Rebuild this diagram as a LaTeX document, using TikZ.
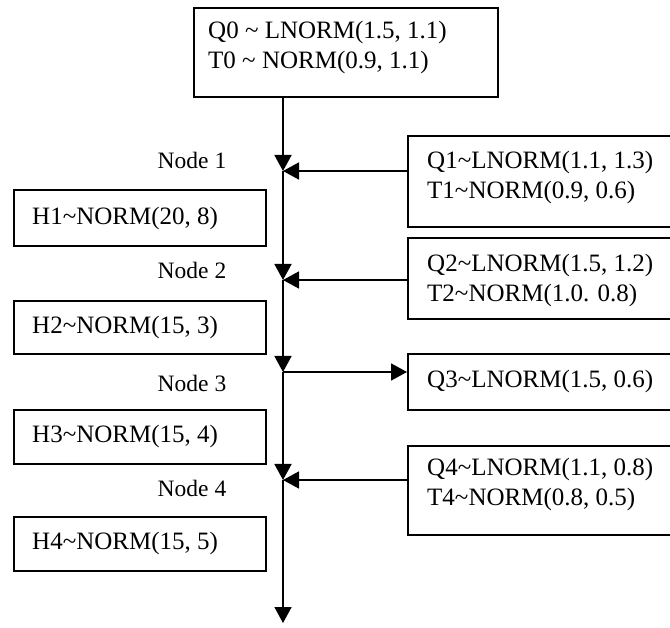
\documentclass[tikz,border=0pt]{standalone}
\usepackage{fontspec}
\setmainfont{Liberation Serif}
\usetikzlibrary{arrows.meta}

\begin{document}
\begin{tikzpicture}[x=1pt,y=-1pt,
  box/.style={draw, line width=1.6pt, rectangle, inner sep=0pt, anchor=north west},
  txt/.style={inner sep=0pt, anchor=west, align=left, font=\fontsize{25}{30}\selectfont},
  lbl/.style={inner sep=0pt, font=\fontsize{23.5}{28}\selectfont},
  flow/.style={line width=1.7pt, -{Triangle[length=16pt,width=17pt]}}]

\useasboundingbox (0,0) rectangle (670,628);
\clip (0,0) rectangle (670,628);

% source box at the top
\node[box, minimum width=304, minimum height=89] (top) at (193,7) {};
\node[txt] (toptext) at (208,47) {Q0 \textasciitilde{} LNORM(1.5, 1.1)\\T0 \textasciitilde{} NORM(0.9, 1.1)};

% inflow / outflow boxes on the right (running off the page edge)
\node[box, minimum width=300, minimum height=91] (q1) at (407,135) {};
\node[txt] (q1text) at (427,177) {Q1\textasciitilde LNORM(1.1, 1.3)\\T1\textasciitilde NORM(0.9, 0.6)};
\node[box, minimum width=300, minimum height=81] (q2) at (407,237) {};
\node[txt] (q2text) at (427,280) {Q2\textasciitilde LNORM(1.5, 1.2)\\T2\textasciitilde NORM(1.0. 0.8)};
\node[box, minimum width=300, minimum height=56] (q3) at (407,353) {};
\node[txt] (q3text) at (427,381) {Q3\textasciitilde LNORM(1.5, 0.6)};
\node[box, minimum width=300, minimum height=89] (q4) at (407,445) {};
\node[txt] (q4text) at (427,484) {Q4\textasciitilde LNORM(1.1, 0.8)\\T4\textasciitilde NORM(0.8, 0.5)};

% head boxes on the left
\node[box, minimum width=252, minimum height=56] (h1) at (13,189) {};
\node[txt] (h1text) at (32,218) {H1\textasciitilde NORM(20, 8)};
\node[box, minimum width=252, minimum height=53] (h2) at (13,300) {};
\node[txt] (h2text) at (32,327) {H2\textasciitilde NORM(15, 3)};
\node[box, minimum width=252, minimum height=54] (h3) at (13,409) {};
\node[txt] (h3text) at (32,436) {H3\textasciitilde NORM(15, 4)};
\node[box, minimum width=252, minimum height=54] (h4) at (13,516) {};
\node[txt] (h4text) at (32,543) {H4\textasciitilde NORM(15, 5)};

% node labels
\node[lbl] (l1) at (192,160) {Node 1};
\node[lbl] (l2) at (192,270) {Node 2};
\node[lbl] (l3) at (192,383) {Node 3};
\node[lbl] (l4) at (192,488) {Node 4};

% junctions on the main channel
\coordinate (j1) at (283,171);
\coordinate (j2) at (283,280);
\coordinate (j3) at (283,372);
\coordinate (j4) at (283,480);
\coordinate (outlet) at (283,623);

% main channel
\draw[flow] (top.south -| j1) -- (j1);
\draw[flow] (j1) -- (j2);
\draw[flow] (j2) -- (j3);
\draw[flow] (j3) -- (j4);
\draw[flow] (j4) -- (outlet);

% lateral flows
\draw[flow] (j1 -| q1.west) -- (j1);
\draw[flow] (j2 -| q2.west) -- (j2);
\draw[flow] (j3) -- (j3 -| q3.west);
\draw[flow] (j4 -| q4.west) -- (j4);
\end{tikzpicture}
\end{document}
